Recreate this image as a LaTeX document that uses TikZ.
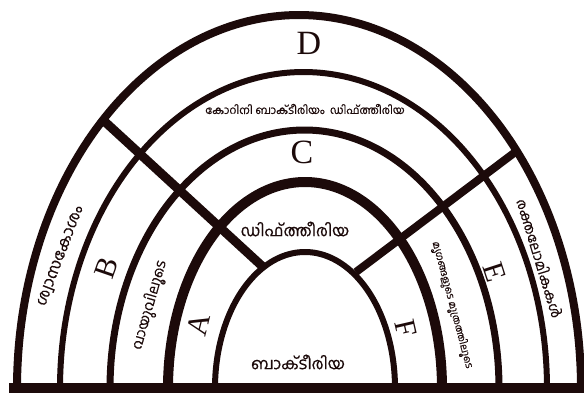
\documentclass[tikz,border=0pt]{standalone}
\usepackage{fontspec}
\newfontfamily\mlfont[Script=Malayalam,FakeBold=0.5]{Hind Kochi}
\newfontfamily\ltfont{Liberation Serif}
\definecolor{ink}{RGB}{28,10,10}
\begin{document}
\begin{tikzpicture}[x=1pt,y=-1pt,
  bigletter/.style={font=\ltfont\fontsize{34}{34}\selectfont, text=ink, inner sep=0pt},
  letter/.style={font=\ltfont\fontsize{30}{30}\selectfont, text=ink, inner sep=0pt},
  mlbig/.style={font=\mlfont\fontsize{16}{16}\selectfont, text=ink, inner sep=0pt},
  mlmid/.style={font=\mlfont\fontsize{14}{14}\selectfont, text=ink, inner sep=0pt},
  mlsmall/.style={font=\mlfont\fontsize{11}{11}\selectfont, text=ink, inner sep=0pt},
  mltiny/.style={font=\mlfont\fontsize{10}{10}\selectfont, text=ink, inner sep=0pt},
  archline/.style={draw=ink, line width=#1}]
\useasboundingbox (0,0) rectangle (584,401);
\fill[white] (0,0) rectangle (584,401);
% arches
\draw[archline=8pt] plot[domain=180:360,samples=160] ({299+282*cos(\x)},{388+373*sin(\x)});
\draw[archline=6pt] plot[domain=180:360,samples=160] ({303.5+243.5*cos(\x)},{388+316*sin(\x)});
\draw[archline=7pt] plot[domain=180:360,samples=160] ({304.5+194.5*cos(\x)},{388+258*sin(\x)});
\draw[archline=10pt] plot[domain=180:360,samples=160] ({305+137*cos(\x)},{388+206*sin(\x)});
\draw[archline=6pt] plot[domain=180:360,samples=160] ({305+90*cos(\x)},{388+136*sin(\x)});
% dividers
\coordinate (l1) at (103,120);
\coordinate (l2) at (262,266);
\coordinate (r1) at (518,150);
\coordinate (r2) at (356,272);
\draw[archline=9pt] (l1) -- (l2);
\draw[archline=8pt] (r1) -- (r2);
% base
\coordinate (b1) at (9,388);
\coordinate (b2) at (584,388);
\draw[archline=10pt] (b1) -- (b2);
% labels
\node[bigletter] (D) at (309,43) {D};
\node[bigletter] (C) at (302,152) {C};
\node[letter, rotate=71] (B) at (107,268) {B};
\node[letter, rotate=76] (A) at (199,325) {A};
\node[letter, rotate=-72] (E) at (495,272) {E};
\node[letter, rotate=-77] (F) at (406,328) {F};
\node[mlbig] (bact) at (298,362) {ബാക്ടീരിയ};
\node[mlbig] (dip) at (295,229) {ഡിഫ്ത്തീരിയ};
\node[mlsmall] (cory) at (305,109) {കോറിനി ബാക്ടീരിയം\ \ ഡിഫ്ത്തീരിയ};
\node[mlbig, rotate=69] (lung) at (61,256) {ശ്വാസകോശം};
\node[mlmid, rotate=74] (air) at (150,305) {വായുവിലൂടെ};
\node[mlmid, rotate=-73] (cap) at (540,258) {രക്തലോമികകൾ};
\node[mltiny, rotate=-75] (urine) at (452,305) {മൃഗങ്ങളുടെ മൂത്രത്തിലൂടെ};
\end{tikzpicture}
\end{document}
